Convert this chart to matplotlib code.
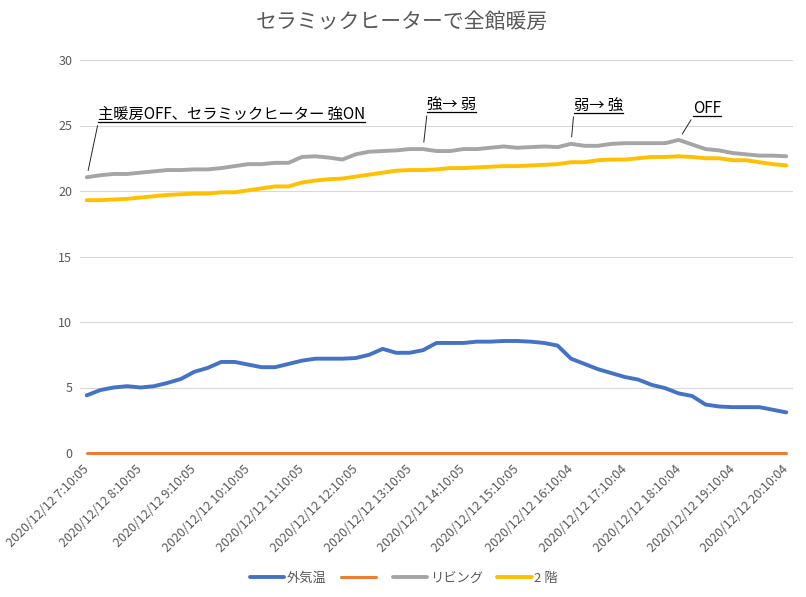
import numpy as np
import matplotlib
matplotlib.use("Agg")
import matplotlib.pyplot as plt
from matplotlib.lines import Line2D
from matplotlib.text import Text

plt.rcParams['font.family'] = ['Noto Sans CJK JP', 'DejaVu Sans']

# === data (15 minute samples, 2020/12/12 7:10 - 20:10) ===
tick_labels = [
    "2020/12/12 7:10:05", "2020/12/12 8:10:05", "2020/12/12 9:10:05",
    "2020/12/12 10:10:05", "2020/12/12 11:10:05", "2020/12/12 12:10:05",
    "2020/12/12 13:10:05", "2020/12/12 14:10:05", "2020/12/12 15:10:05",
    "2020/12/12 16:10:04", "2020/12/12 17:10:04", "2020/12/12 18:10:04",
    "2020/12/12 19:10:04", "2020/12/12 20:10:04",
]

outside = [4.4, 4.8, 5.0, 5.1, 5.0, 5.1, 5.35, 5.65, 6.2, 6.5,
           6.95, 6.95, 6.75, 6.55, 6.55, 6.8, 7.05, 7.2, 7.2, 7.2,
           7.25, 7.5, 7.95, 7.65, 7.65, 7.85, 8.4, 8.4, 8.4, 8.5,
           8.5, 8.55, 8.55, 8.5, 8.4, 8.2, 7.2, 6.8, 6.4, 6.1,
           5.8, 5.6, 5.2, 4.95, 4.55, 4.35, 3.7, 3.55, 3.5, 3.5,
           3.5, 3.3, 3.1]

unnamed = [0.0] * 53

living = [21.05, 21.2, 21.3, 21.3, 21.4, 21.5, 21.6, 21.6, 21.65, 21.65,
          21.75, 21.9, 22.05, 22.05, 22.15, 22.15, 22.6, 22.65, 22.55, 22.4,
          22.8, 23.0, 23.05, 23.1, 23.2, 23.2, 23.05, 23.05, 23.2, 23.2,
          23.3, 23.4, 23.3, 23.35, 23.4, 23.35, 23.6, 23.45, 23.45, 23.6,
          23.65, 23.65, 23.65, 23.65, 23.9, 23.55, 23.2, 23.1, 22.9, 22.8,
          22.7, 22.7, 22.65]

second_floor = [19.3, 19.3, 19.35, 19.4, 19.5, 19.6, 19.7, 19.75, 19.8, 19.8,
                19.9, 19.9, 20.05, 20.2, 20.35, 20.35, 20.65, 20.8, 20.9, 20.95,
                21.1, 21.25, 21.4, 21.55, 21.6, 21.6, 21.65, 21.75, 21.75, 21.8,
                21.85, 21.9, 21.9, 21.95, 22.0, 22.05, 22.2, 22.2, 22.35, 22.4,
                22.4, 22.5, 22.6, 22.6, 22.65, 22.6, 22.5, 22.5, 22.35, 22.35,
                22.2, 22.05, 21.95]

series_names = ["外気温", "", "リビング", "2 階"]
series_colors = ["#4472C4", "#ED7D31", "#A5A5A5", "#FFC000"]

# annotations: (text, index of point, text x index, text y value)
notes = [
    ("主暖房OFF、セラミックヒーター 強ON", 0, 0.85, 25.2),
    ("強→ 弱", 25, 25.3, 25.95),
    ("弱→ 強", 36, 36.2, 25.88),
    ("OFF", 44, 45.05, 25.65),
]

grey_text = "#595959"

fig = plt.figure(figsize=(8.06, 5.97), dpi=100)
ax = fig.add_axes([80 / 806, 1 - 453 / 597, 713 / 806, 393 / 597])

x = np.arange(len(outside))
all_series = [outside, unnamed, living, second_floor]
handles = []
for vals, name, col in zip(all_series, series_names, series_colors):
    lw = 2.2 if name == "" else 2.8
    ln, = ax.plot(x, vals, color=col, lw=lw, solid_capstyle='round',
                  solid_joinstyle='round', clip_on=False, zorder=3)
    handles.append(ln)

ax.set_xlim(-0.5, len(outside) - 0.5)
ax.set_ylim(0, 30)
ax.set_yticks(np.arange(0, 31, 5))
ax.yaxis.grid(True, color="#D9D9D9", lw=0.8)
ax.set_axisbelow(True)
for s in ax.spines.values():
    s.set_visible(False)

ax.set_xticks(np.arange(0, len(outside), 4))
ax.set_xticklabels(tick_labels, rotation=45, ha='right', va='center',
                   rotation_mode='anchor')
ax.tick_params(axis='x', length=0, pad=10, labelsize=9, labelcolor=grey_text)
ax.tick_params(axis='y', length=0, pad=5.5, labelsize=9, labelcolor=grey_text)

fig.text(402 / 806, 1 - 22 / 597, "セラミックヒーターで全館暖房",
         ha='center', va='center', fontsize=15, color=grey_text)

ax.legend(handles, series_names, loc='center', bbox_to_anchor=(404 / 806, 1 - 578 / 597),
          bbox_transform=fig.transFigure, ncol=4, frameon=False, fontsize=9.5,
          handlelength=2.6, handletextpad=0.2, columnspacing=1.1,
          labelcolor=grey_text)

# callouts with underlined text
texts = []
for label, idx, tx, ty in notes:
    t = ax.annotate(label, xy=(idx, living[idx]), xytext=(tx, ty),
                    textcoords='data', ha='left', va='bottom', fontsize=11,
                    color='black',
                    arrowprops=dict(arrowstyle='-', color='#262626', lw=0.7,
                                    shrinkA=0, shrinkB=5, relpos=(0, 0)))
    texts.append(t)

fig.canvas.draw()
renderer = fig.canvas.get_renderer()
inv = fig.transFigure.inverted()
for t in texts:
    bb = Text.get_window_extent(t, renderer)
    (x0, y0), (x1, _) = inv.transform([[bb.x0, bb.y0 + 1], [bb.x1, bb.y0 + 1]])
    fig.add_artist(Line2D([x0, x1], [y0, y0], color='black', lw=0.9))

fig.savefig("out.png", dpi=100)
